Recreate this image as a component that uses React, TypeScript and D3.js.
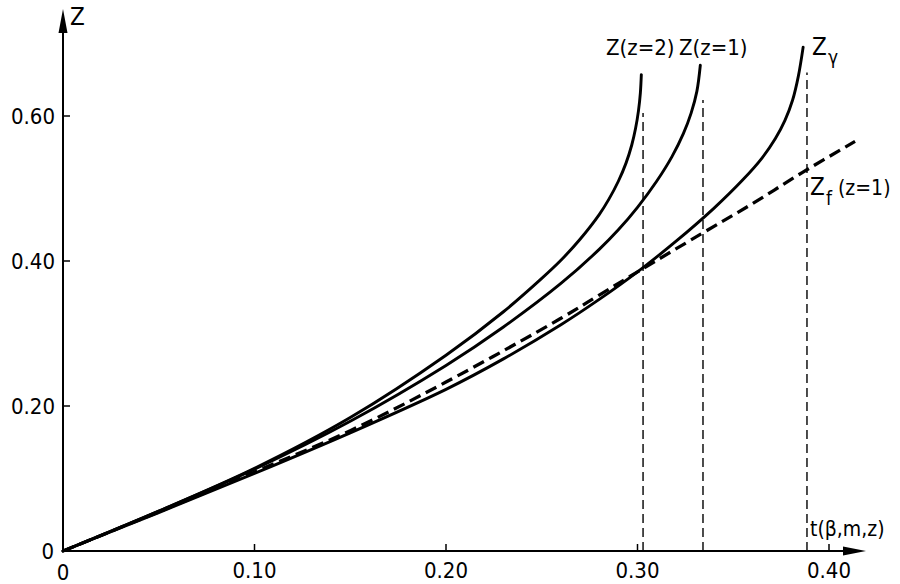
import * as d3 from 'd3';

type Pt = { t: number; z: number };

// t values / Z values
const tZ2 = [0, 0.05, 0.10, 0.15, 0.20, 0.23, 0.25, 0.26, 0.27, 0.28, 0.285, 0.29, 0.294, 0.297, 0.299, 0.3005, 0.3015, 0.302];
const zZ2 = [0, 0.055, 0.114, 0.184, 0.270, 0.330, 0.376, 0.401, 0.430, 0.464, 0.485, 0.510, 0.535, 0.560, 0.583, 0.607, 0.632, 0.657];

const tZ1 = [0, 0.05, 0.10, 0.15, 0.20, 0.23, 0.26, 0.28, 0.29, 0.30, 0.31, 0.318, 0.324, 0.328, 0.331, 0.3328];
const zZ1 = [0, 0.055, 0.113, 0.179, 0.256, 0.309, 0.369, 0.416, 0.443, 0.474, 0.510, 0.544, 0.576, 0.604, 0.634, 0.670];

const tZg = [0, 0.05, 0.10, 0.15, 0.20, 0.23, 0.26, 0.28, 0.30, 0.32, 0.34, 0.355, 0.365, 0.372, 0.377, 0.381, 0.384, 0.3865];
const zZg = [0, 0.053, 0.107, 0.163, 0.223, 0.265, 0.312, 0.347, 0.385, 0.427, 0.473, 0.512, 0.542, 0.569, 0.594, 0.622, 0.655, 0.695];

const tZf = [0, 0.05, 0.10, 0.15, 0.20, 0.26, 0.28, 0.30, 0.333, 0.36, 0.386, 0.4136];
const zZf = [0, 0.054, 0.109, 0.166, 0.233, 0.321, 0.353, 0.385, 0.437, 0.479, 0.522, 0.565];

// vertical dashed drop lines: t position, top Z
const dropT = [0.3029, 0.3342, 0.3885];
const dropTop = [0.604, 0.622, 0.66];

const xTicks = [0.1, 0.2, 0.3, 0.4];
const xTickLabels = ['0.10', '0.20', '0.30', '0.40'];
const yTicks = [0.2, 0.4, 0.6];
const yTickLabels = ['0.20', '0.40', '0.60'];

const zip = (ts: number[], zs: number[]): Pt[] => ts.map((t, i) => ({ t, z: zs[i] }));

const FONT = '"Liberation Sans Narrow", "DejaVu Sans Condensed", "Arial Narrow", sans-serif';

export default function App() {
  const x = d3.scaleLinear().domain([0, 0.4]).range([63, 829]);
  const y = d3.scaleLinear().domain([0, 0.6]).range([551, 116]);

  const line = d3.line<Pt>()
    .x(d => x(d.t))
    .y(d => y(d.z))
    .curve(d3.curveCatmullRom.alpha(0.5));

  const solid = [zip(tZ2, zZ2), zip(tZ1, zZ1), zip(tZg, zZg)];
  const x0 = x(0);
  const y0 = y(0);

  return (
    <svg width={900} height={584} style={{ position: 'absolute', left: 0, top: 0, background: '#fff' }}
      fontFamily={FONT}>
      {/* axes */}
      <line x1={x0} y1={y0} x2={848} y2={y0} stroke="#000" strokeWidth={2} />
      <path d={`M866,${y0} L843,${y0 - 4.5} L843,${y0 + 4.5} Z`} fill="#000" />
      <line x1={x0} y1={y0} x2={x0} y2={28} stroke="#000" strokeWidth={2} />
      <path d={`M${x0},9 L${x0 - 4.5},33 L${x0 + 4.5},33 Z`} fill="#000" />

      {xTicks.map((t, i) => (
        <g key={'xt' + i}>
          <line x1={x(t)} x2={x(t)} y1={y0} y2={y0 - 7} stroke="#000" strokeWidth={1.5} />
          <text x={x(t)} y={578} fontSize={22} textAnchor="middle">{xTickLabels[i]}</text>
        </g>
      ))}
      {yTicks.map((v, i) => (
        <g key={'yt' + i}>
          <line x1={x0} x2={x0 + 7} y1={y(v)} y2={y(v)} stroke="#000" strokeWidth={1.5} />
          <text x={55} y={y(v) + 8} fontSize={22} textAnchor="end">{yTickLabels[i]}</text>
        </g>
      ))}
      <text x={x0} y={580} fontSize={22} textAnchor="middle">0</text>
      <text x={54} y={559} fontSize={22} textAnchor="end">0</text>

      {/* drop lines */}
      {dropT.map((t, i) => (
        <line key={'d' + i} x1={x(t)} x2={x(t)} y1={y0} y2={y(dropTop[i])}
          stroke="#000" strokeWidth={1.4} strokeDasharray="9,5" />
      ))}

      {/* curves */}
      {solid.map((s, i) => (
        <path key={'c' + i} d={line(s) ?? ''} fill="none" stroke="#000" strokeWidth={2.9} strokeLinecap="round" />
      ))}
      <path d={line(zip(tZf, zZf)) ?? ''} fill="none" stroke="#000" strokeWidth={3.3} strokeDasharray="12,6" />

      {/* labels */}
      <text x={70} y={25} fontSize={24}>Z</text>
      <text x={606} y={55} fontSize={22}>Z(z=2)</text>
      <text x={679} y={55} fontSize={22}>Z(z=1)</text>
      <text x={812} y={55} fontSize={24}>Z</text>
      <text x={828} y={64} fontSize={19}>γ</text>
      <text x={810} y={195} fontSize={24}>Z</text>
      <text x={826} y={205} fontSize={19}>f</text>
      <text x={838} y={195} fontSize={21}>(z=1)</text>
      <text x={810} y={536} fontSize={21}>t(β,m,z)</text>
    </svg>
  );
}
